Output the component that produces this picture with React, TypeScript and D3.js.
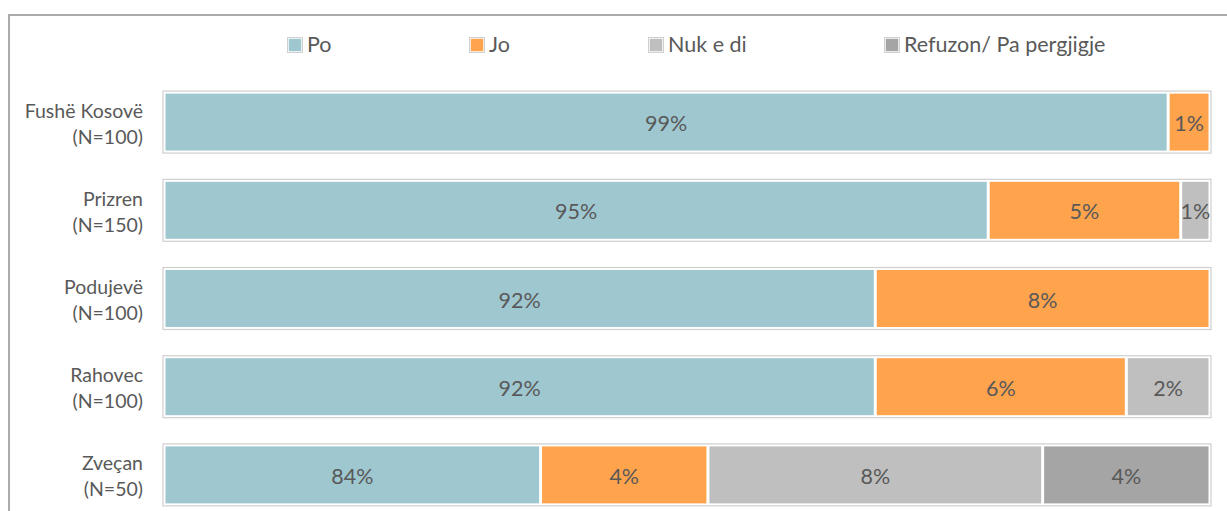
import React from "react";
import * as d3 from "d3";

const categories = ["Fushë Kosovë", "Prizren", "Podujevë", "Rahovec", "Zveçan"];
const sampleSizes = ["(N=100)", "(N=150)", "(N=100)", "(N=100)", "(N=50)"];
const seriesNames = ["Po", "Jo", "Nuk e di", "Refuzon/ Pa pergjigje"];
const po = [99, 94.7, 92, 92, 84];
const jo = [1, 4.6, 8, 6, 4];
const nukEDi = [0, 0.7, 0, 2, 8];
const refuzon = [0, 0, 0, 0, 4];
const colors = ["#9FC7D0", "#FFA34D", "#BFBFBF", "#A5A5A5"];
const axisMin = 75;
const axisMax = 100;

export default function App() {
  const W = 1227, H = 511;
  const x = d3.scaleLinear().domain([axisMin, axisMax]).range([164, 1210]).clamp(true);
  const y = d3.scaleBand().domain(categories).range([78, 519]).paddingInner(0.32).paddingOuter(0.16);
  const series = [po, jo, nukEDi, refuzon];
  const rows = categories.map((c, i) => {
    let acc = 0;
    return series.map((s, k) => {
      const v = s[i];
      const start = acc;
      acc += v;
      return { k, v, start, end: acc };
    });
  });
  const legendX = [287, 469, 648, 884];
  const font = "Lato, 'Open Sans', sans-serif";
  return (
    <svg width={W} height={H} style={{ position: "absolute", left: 0, top: 0 }} fontFamily={font}>
      <rect x={0} y={0} width={W} height={H} fill="#fff" />
      <rect x={9} y={15} width={W + 20} height={H + 20} fill="none" stroke="#ababab" strokeWidth={2} />
      {seriesNames.map((n, k) => (
        <g key={n}>
          <rect x={legendX[k] + 1} y={38} width={14} height={14} fill={colors[k]} stroke="#fff" strokeWidth={1.5} />
          <rect x={legendX[k] + 0.5} y={37.5} width={15} height={15} fill="none" stroke="#d0d0d0" strokeWidth={1} />
          <text x={legendX[k] + 20} y={44} dominantBaseline="central" fontSize={21.5} fill="#595959">{n}</text>
        </g>
      ))}
      {categories.map((c, i) => {
        const by = y(c)!;
        const bh = y.bandwidth();
        return (
          <g key={c}>
            <text x={143} y={by + bh / 2 - 12} textAnchor="end" dominantBaseline="central" fontSize={19.5} fill="#595959">{c}</text>
            <text x={143} y={by + bh / 2 + 14} textAnchor="end" dominantBaseline="central" fontSize={19.5} fill="#595959">{sampleSizes[i]}</text>
            <rect x={x(axisMin) - 1} y={by - 1} width={x(axisMax) - x(axisMin) + 2} height={bh + 2} fill="#fff" stroke="#cfcfcf" strokeWidth={1.2} />
            {rows[i].filter(s => s.v > 0).map(s => {
              const x0 = x(s.start), x1 = x(s.end);
              return (
                <g key={s.k}>
                  <rect x={x0 + 1.5} y={by + 1.5} width={Math.max(0, x1 - x0 - 3)} height={bh - 3} fill={colors[s.k]} />
                  <text x={(x0 + x1) / 2} y={by + bh / 2 + 1} textAnchor="middle" dominantBaseline="central" fontSize={21.5} fill="#595959">{Math.round(s.v)}%</text>
                </g>
              );
            })}
          </g>
        );
      })}
    </svg>
  );
}
